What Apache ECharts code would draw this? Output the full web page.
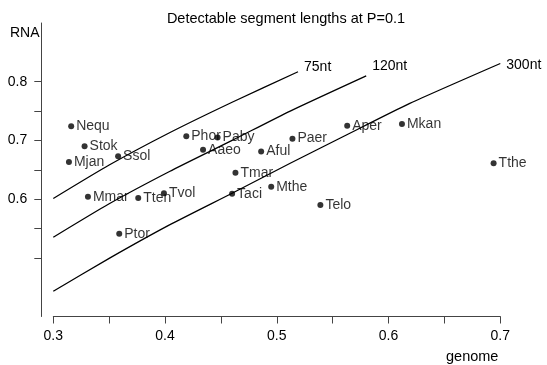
<!DOCTYPE html>
<html>
<head>
<meta charset="utf-8">
<script src="https://cdn.jsdelivr.net/npm/echarts@6/dist/echarts.min.js"></script>
<style>
  html, body { margin: 0; padding: 0; background: #fff; }
  #chart { width: 547px; height: 365px; }
</style>
</head>
<body>
<div id="chart"></div>
<script>
// species labels and their GC content (genome vs RNA)
const species = ['Nequ', 'Stok', 'Mjan', 'Ssol', 'Phor', 'Paby', 'Aaeo', 'Aful', 'Paer', 'Aper',
                 'Mkan', 'Tthe', 'Tmar', 'Mmar', 'Tten', 'Tvol', 'Taci', 'Mthe', 'Telo', 'Ptor'];
const genomeGC = [0.316, 0.328, 0.314, 0.358, 0.419, 0.447, 0.434, 0.486, 0.514, 0.563,
                  0.612, 0.694, 0.463, 0.331, 0.376, 0.399, 0.460, 0.495, 0.539, 0.359];
const rnaGC = [0.724, 0.690, 0.663, 0.673, 0.707, 0.705, 0.684, 0.681, 0.703, 0.725,
               0.728, 0.661, 0.645, 0.604, 0.602, 0.610, 0.609, 0.621, 0.590, 0.541];

// detectable segment length curves
const curveNames = ['75nt', '120nt', '300nt'];
const curve75x = [0.300, 0.350, 0.404, 0.460, 0.519];
const curve75y = [0.601, 0.658, 0.713, 0.765, 0.817];
const curve120x = [0.300, 0.350, 0.404, 0.460, 0.512, 0.580];
const curve120y = [0.535, 0.592, 0.647, 0.700, 0.750, 0.810];
const curve300x = [0.300, 0.350, 0.404, 0.460, 0.512, 0.560, 0.619, 0.700];
const curve300y = [0.443, 0.499, 0.556, 0.610, 0.661, 0.707, 0.763, 0.831];

const xLabels = [0.3, 0.4, 0.5, 0.6, 0.7];
const xTicks = [0.3, 0.35, 0.4, 0.45, 0.5, 0.55, 0.6, 0.65, 0.7];
const yLabels = [0.6, 0.7, 0.8];
const yTicks = [0.5, 0.55, 0.6, 0.65, 0.7, 0.75, 0.8];

const font = "'Liberation Sans', Arial, Helvetica, sans-serif";
const zip = (xs, ys) => xs.map((x, i) => [x, ys[i]]);

const chart = echarts.init(document.getElementById('chart'));

// [x values, y values, vertical offset of the end label]
const curves = [[curve75x, curve75y, -5], [curve120x, curve120y, -10], [curve300x, curve300y, 2]];

const option = {
  animation: false,
  textStyle: { fontFamily: font },
  grid: { left: 53.3, right: 46.7, top: 23, bottom: 48.5, containLabel: false },
  graphic: [
    { type: 'text', x: 286, y: 11, style: { text: 'Detectable segment lengths at P=0.1', font: '14.5px ' + font, fill: '#000', textAlign: 'center' } },
    { type: 'text', x: 10, y: 26, style: { text: 'RNA', font: '14px ' + font, fill: '#000' } },
    { type: 'text', x: 446, y: 349, style: { text: 'genome', font: '14.5px ' + font, fill: '#000' } }
  ],
  xAxis: {
    type: 'value',
    min: 0.3,
    max: 0.7,
    interval: 0.05,
    splitLine: { show: false },
    axisLine: { show: true, lineStyle: { color: '#444', width: 1 } },
    axisTick: { show: true, length: 7, customValues: xTicks, lineStyle: { color: '#444' } },
    axisLabel: { customValues: xLabels, margin: 13, fontSize: 14, color: '#000', fontFamily: font,
                 formatter: v => v.toFixed(1) }
  },
  yAxis: {
    type: 'value',
    min: 0.4,
    max: 0.9,
    interval: 0.05,
    offset: 12,
    splitLine: { show: false },
    axisLine: { show: true, lineStyle: { color: '#444', width: 1 } },
    axisTick: { show: true, length: 7, customValues: yTicks, lineStyle: { color: '#444' } },
    axisLabel: { customValues: yLabels, margin: 14, fontSize: 14, color: '#000', fontFamily: font,
                 formatter: v => v.toFixed(1) }
  },
  series: [
    ...curves.map((c, i) => ({
      name: curveNames[i],
      type: 'line',
      data: zip(c[0], c[1]),
      smooth: 0.2,
      symbol: 'none',
      lineStyle: { color: '#000', width: 1.3 },
      endLabel: {
        show: true,
        formatter: curveNames[i],
        distance: 6,
        offset: [0, c[2]],
        fontSize: 14,
        color: '#000',
        fontFamily: font
      }
    })),
    {
      type: 'scatter',
      data: species.map((s, i) => [genomeGC[i], rnaGC[i], s]),
      symbol: 'circle',
      symbolSize: 6,
      itemStyle: { color: '#000' },
      label: {
        show: true,
        position: 'right',
        distance: 2,
        formatter: p => p.data[2],
        fontSize: 14,
        color: '#000',
        fontFamily: font
      }
    }
  ]
};

chart.setOption(option);
</script>
</body>
</html>
